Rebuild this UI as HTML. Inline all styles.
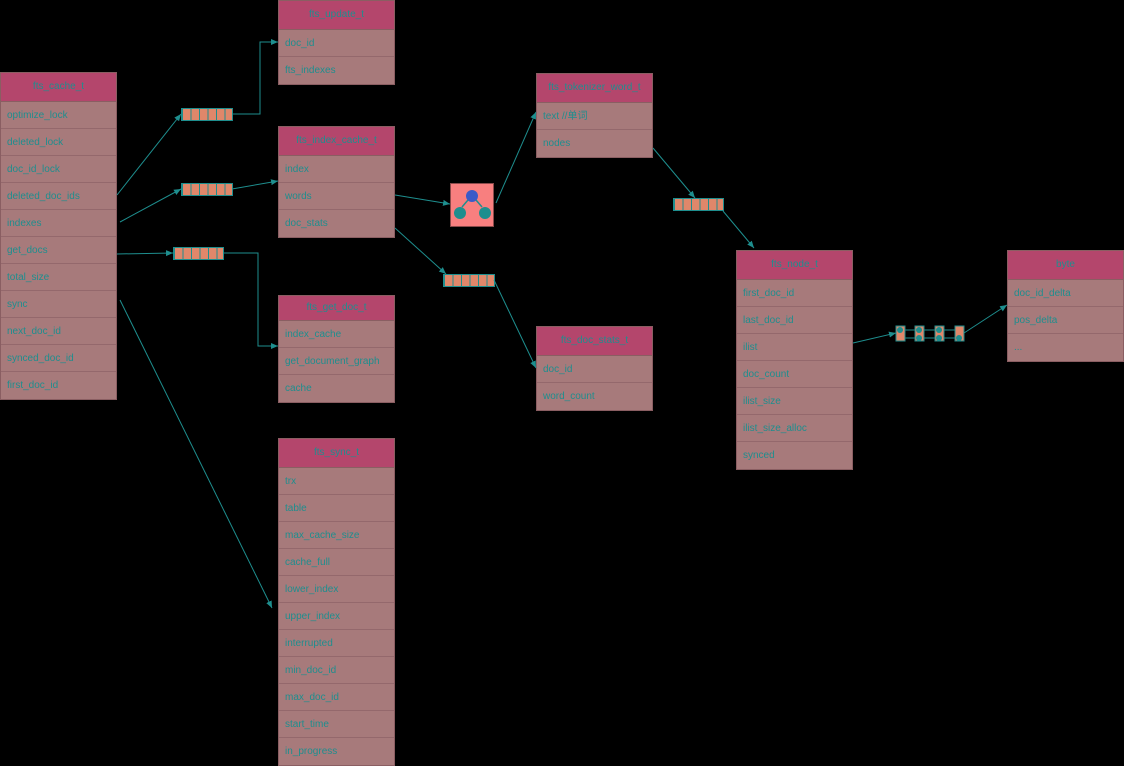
<!DOCTYPE html>
<html><head><meta charset="utf-8"><style>
body{margin:0;width:1124px;height:766px;background:#000;position:relative;overflow:hidden;font-family:"Liberation Sans","Noto Sans CJK SC",sans-serif;}
.t{position:absolute;width:117px;background:#a77a7b;border:1px solid #8a5e62;box-sizing:border-box;}
.h{background:#b4466c;color:#1e8e8e;text-align:center;font-size:10px;height:28px;line-height:28px;border-bottom:1px solid #8a5e62;}
.r{color:#1e8e8e;font-size:10px;height:27px;line-height:27px;padding-left:6px;border-bottom:1px solid #94686c;box-sizing:border-box;}
.arr{position:absolute;height:13px;background:#e0876a;border:1px solid #1e8e8e;box-sizing:border-box;background-image:linear-gradient(90deg,#1e8e8e 1px,transparent 1px);background-size:8.5px 100%;}
svg{position:absolute;left:0;top:0}
</style></head><body>
<div class="t" style="left:0;top:72px"><div class="h">fts_cache_t</div>
<div class="r">optimize_lock</div><div class="r">deleted_lock</div><div class="r">doc_id_lock</div><div class="r">deleted_doc_ids</div><div class="r">indexes</div><div class="r">get_docs</div><div class="r">total_size</div><div class="r">sync</div><div class="r">next_doc_id</div><div class="r">synced_doc_id</div><div class="r" style="border:0">first_doc_id</div></div>
<div class="t" style="left:278px;top:0"><div class="h">fts_update_t</div><div class="r">doc_id</div><div class="r" style="border:0">fts_indexes</div></div>
<div class="t" style="left:278px;top:126px"><div class="h">fts_index_cache_t</div><div class="r">index</div><div class="r">words</div><div class="r" style="border:0">doc_stats</div></div>
<div class="t" style="left:278px;top:295px"><div class="h" style="height:24px;line-height:24px">fts_get_doc_t</div><div class="r">index_cache</div><div class="r">get_document_graph</div><div class="r" style="border:0">cache</div></div>
<div class="t" style="left:278px;top:438px"><div class="h">fts_sync_t</div>
<div class="r">trx</div><div class="r">table</div><div class="r">max_cache_size</div><div class="r">cache_full</div><div class="r">lower_index</div><div class="r">upper_index</div><div class="r">interrupted</div><div class="r">min_doc_id</div><div class="r">max_doc_id</div><div class="r">start_time</div><div class="r" style="border:0">in_progress</div></div>
<div class="t" style="left:536px;top:73px"><div class="h">fts_tokenizer_word_t</div><div class="r">text //单词</div><div class="r" style="border:0">nodes</div></div>
<div class="t" style="left:536px;top:326px"><div class="h">fts_doc_stats_t</div><div class="r">doc_id</div><div class="r" style="border:0">word_count</div></div>
<div class="t" style="left:736px;top:250px"><div class="h">fts_node_t</div>
<div class="r">first_doc_id</div><div class="r">last_doc_id</div><div class="r">ilist</div><div class="r">doc_count</div><div class="r">ilist_size</div><div class="r">ilist_size_alloc</div><div class="r" style="border:0">synced</div></div>
<div class="t" style="left:1007px;top:250px"><div class="h">byte</div><div class="r">doc_id_delta</div><div class="r">pos_delta</div><div class="r" style="border:0">...</div></div>
<div class="arr" style="left:181px;top:108px;width:52px"></div>
<div class="arr" style="left:181px;top:183px;width:52px"></div>
<div class="arr" style="left:173px;top:247px;width:51px"></div>
<div class="arr" style="left:443px;top:274px;width:52px"></div>
<div class="arr" style="left:673px;top:198px;width:51px"></div>
<div style="position:absolute;left:450px;top:183px;width:44px;height:44px;background:#f87f7f;border:1px solid #8a4a4a;box-sizing:border-box"></div>
<svg width="1124" height="766">
<defs><marker id="a" markerWidth="8" markerHeight="8" refX="7" refY="4" orient="auto"><path d="M0,1 L7,4 L0,7z" fill="#1e8e8e"/></marker></defs>
<g stroke="#1e8e8e" stroke-width="1" fill="none" marker-end="url(#a)">
<path d="M117,195 L181,114"/>
<path d="M232,114 H260 V42 H278"/>
<path d="M120,222 L181,189"/>
<path d="M232,189 L278,181"/>
<path d="M117,254 L173,253"/>
<path d="M223,253 H258 V346 H278"/>
<path d="M120,300 L272,608"/>
<path d="M395,195 L450,204"/>
<path d="M496,203 L536,112"/>
<path d="M395,228 L446,274"/>
<path d="M494,280 L536,368"/>
<path d="M653,148 L695,198"/>
<path d="M723,211 L754,248"/>
<path d="M853,343 L896,333"/>
<path d="M964,333 L1007,305"/>
</g>
<circle cx="472" cy="196" r="6" fill="#3a5ac8"/>
<circle cx="460" cy="213" r="6" fill="#1e8e8e"/><circle cx="485" cy="213" r="6" fill="#1e8e8e"/>
<path d="M468,200 L462,207 M476,200 L482,207" stroke="#1e8e8e" stroke-width="1.5"/>
<g fill="#e0876a" stroke="#1e8e8e">
<rect x="896" y="326" width="9" height="15"/><rect x="915" y="326" width="9" height="15"/><rect x="935" y="326" width="9" height="15"/><rect x="955" y="326" width="9" height="15"/>
</g>
<g fill="#1e8e8e"><circle cx="900" cy="330" r="3"/><circle cx="919" cy="330" r="3"/><circle cx="919" cy="338" r="3"/><circle cx="939" cy="330" r="3"/><circle cx="939" cy="338" r="3"/><circle cx="959" cy="338" r="3"/></g>
<g stroke="#1e8e8e"><path d="M905,330 H915 M924,330 H935 M944,330 H955 M915,338 H905 M935,338 H924 M955,338 H944"/></g>
</svg>
</body></html>
